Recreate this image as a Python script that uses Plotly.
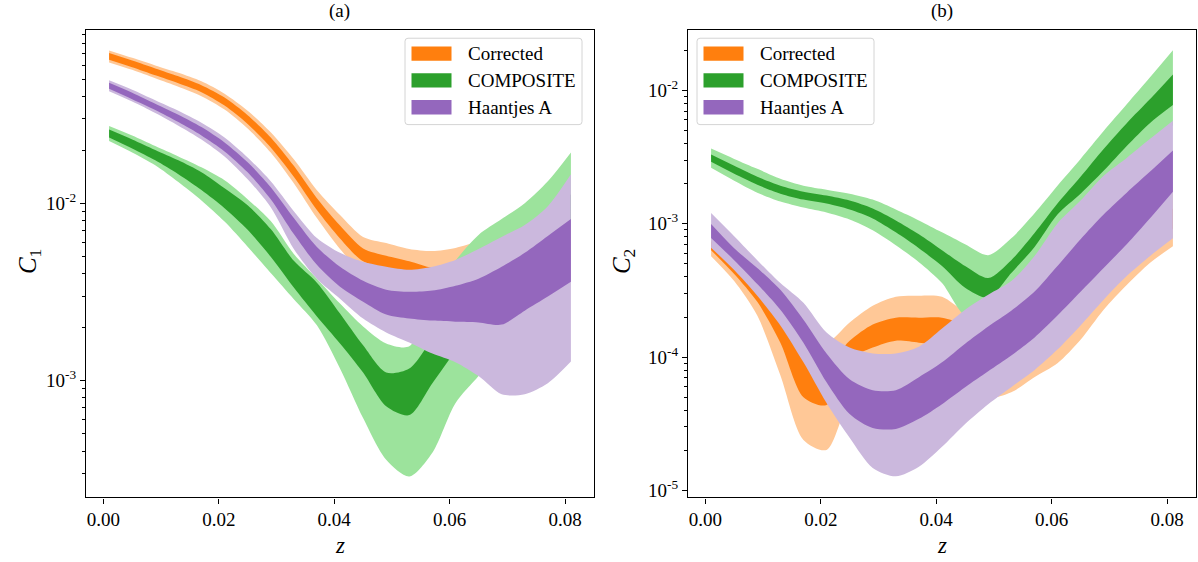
import plotly.graph_objects as go

# Redshift samples shared by every band
z = [0.001, 0.005, 0.009, 0.013, 0.017, 0.021, 0.025, 0.029, 0.033, 0.037,
     0.041, 0.045, 0.049, 0.053, 0.057, 0.061, 0.065, 0.069, 0.073, 0.077, 0.081]

labels = ["Corrected", "COMPOSITE", "Haantjes A"]

# ---------------- panel (a): C1 ----------------
# lo2/hi2 = outer (light) limits, lo1/hi1 = inner (dark) limits
c1_corr_hi2 = [0.0731, 0.0664, 0.0602, 0.0547, 0.0490, 0.0417, 0.0334, 0.0252, 0.01774, 0.01188, 0.00860,
               0.00647, 0.00598, 0.00554, 0.00539, 0.00561, 0.00614, 0.00681, 0.00755, 0.00827, 0.00905]
c1_corr_hi1 = [0.0708, 0.0642, 0.0579, 0.0522, 0.0465, 0.0396, 0.0315, 0.0236, 0.01631, 0.01071, 0.00750,
               0.00557, 0.00506, 0.00471, 0.00433, 0.00444, 0.00480, 0.00533, 0.00591, 0.00647, 0.00708]
c1_corr_lo1 = [0.0647, 0.0587, 0.0529, 0.0477, 0.0425, 0.0357, 0.0281, 0.0207, 0.01415, 0.00917, 0.00634,
               0.00471, 0.00433, 0.00408, 0.00380, 0.00390, 0.00422, 0.00468, 0.00519, 0.00568, 0.00622]
c1_corr_lo2 = [0.0626, 0.0568, 0.0509, 0.0456, 0.0403, 0.0339, 0.0265, 0.0194, 0.01301, 0.00827, 0.00554,
               0.00406, 0.00366, 0.00347, 0.00305, 0.00309, 0.00330, 0.00366, 0.00406, 0.00444, 0.00486]

c1_comp_hi2 = [0.0274, 0.0242, 0.0211, 0.01844, 0.0160, 0.01352, 0.01057, 0.00795, 0.00519, 0.00376, 0.00272,
               0.00202, 0.00162, 0.00156, 0.00290, 0.00474, 0.00664, 0.00816, 0.01004, 0.01335, 0.01942]
c1_comp_hi1 = [0.02615, 0.0230, 0.02006, 0.01751, 0.0150, 0.01219, 0.00978, 0.00717, 0.00474, 0.00357, 0.00239,
               0.00158, 0.00111, 0.00117, 0.00173, 0.00272, 0.00401, 0.00539, 0.00690, 0.00871, 0.01128]
c1_comp_lo1 = [0.0236, 0.02045, 0.01751, 0.01461, 0.01190, 0.00940, 0.00710, 0.00500, 0.00335, 0.00230, 0.00162,
               0.00111, 0.000717, 0.000638, 0.000966, 0.00148, 0.00230, 0.00330, 0.00439, 0.00568, 0.00736]
c1_comp_lo2 = [0.02254, 0.01942, 0.01642, 0.01320, 0.01040, 0.00790, 0.00570, 0.00405, 0.00288, 0.00205, 0.00117,
               0.000614, 0.000357, 0.000287, 0.000391, 0.000745, 0.00106, 0.00152, 0.00224, 0.00330, 0.00486]

c1_haan_hi2 = [0.0496, 0.0439, 0.0383, 0.0334, 0.0286, 0.0236, 0.0182, 0.01335, 0.00905, 0.00638, 0.00526,
               0.00468, 0.00439, 0.00422, 0.00439, 0.00480, 0.00554, 0.00647, 0.00755, 0.00965, 0.01461]
c1_haan_hi1 = [0.0480, 0.0422, 0.0366, 0.0317, 0.0270, 0.0221, 0.01706, 0.01235, 0.00827, 0.00568, 0.00439,
               0.00366, 0.00326, 0.00317, 0.00322, 0.00343, 0.00376, 0.00439, 0.00526, 0.00655, 0.00816]
c1_haan_lo1 = [0.0444, 0.0388, 0.0337, 0.0288, 0.0242, 0.01967, 0.0150, 0.01057, 0.00672, 0.00450, 0.00339,
               0.00279, 0.00236, 0.00224, 0.00218, 0.00215, 0.00213, 0.00207, 0.00248, 0.00298, 0.00361]
c1_haan_lo2 = [0.0430, 0.0376, 0.0324, 0.0275, 0.0230, 0.01844, 0.0137, 0.00953, 0.00554, 0.00376, 0.00290,
               0.00224, 0.00187, 0.00164, 0.00142, 0.00127, 0.00106, 0.000837, 0.000837, 0.000966, 0.00128]

# ---------------- panel (b): C2 ----------------
c2_corr_hi2 = [0.000834, 0.000613, 0.000413, 0.000256, 0.000145, 0.0001285, 0.000182, 0.000243, 0.000284, 0.000289,
               0.000284, 0.000216, 0.000167, 0.000182, 0.000235, 0.00032, 0.000466, 0.000715, 0.00106, 0.001545, 0.002177]
c2_corr_hi1 = [0.00074, 0.000534, 0.000354, 0.000198, 0.000105, 0.0000869, 0.000133, 0.000176, 0.000198, 0.000198,
               0.000198, 0.000173, 0.0001285, 0.0001285, 0.000153, 0.000205, 0.000289, 0.000428, 0.000634, 0.000924, 0.001302]
c2_corr_lo1 = [0.000634, 0.00042, 0.00026, 0.0001285, 0.0000502, 0.0000438, 0.0000963, 0.000118, 0.000133, 0.0001285,
               0.000122, 0.000114, 0.000084, 0.0000915, 0.000103, 0.0001285, 0.000191, 0.000299, 0.00045, 0.000656, 0.000924]
c2_corr_lo2 = [0.000572, 0.000372, 0.000205, 0.0000733, 0.000024, 0.0000202, 0.0000502, 0.0000869, 0.0000997, 0.000108,
               0.0000997, 0.000084, 0.0000502, 0.0000547, 0.0000708, 0.00009, 0.000135, 0.000227, 0.000348, 0.000508, 0.000679]

c2_comp_hi2 = [0.00366, 0.003066, 0.002583, 0.002177, 0.001931, 0.001803, 0.001683, 0.001519, 0.00128, 0.00106,
               0.000863, 0.000703, 0.000582, 0.000779, 0.001195, 0.001931, 0.003066, 0.004953, 0.007866, 0.01249, 0.0200]
c2_comp_hi1 = [0.0033, 0.002719, 0.002252, 0.001931, 0.001742, 0.001627, 0.001493, 0.001302, 0.00106, 0.000834,
               0.000634, 0.000482, 0.000392, 0.000534, 0.000848, 0.001418, 0.002252, 0.003639, 0.00568, 0.00857, 0.01317]
c2_comp_lo1 = [0.002912, 0.002371, 0.001964, 0.001683, 0.001519, 0.001418, 0.00128, 0.001097, 0.000863, 0.000656,
               0.000482, 0.000331, 0.000279, 0.000428, 0.000668, 0.001175, 0.001683, 0.002496, 0.00383, 0.00568, 0.00776]
c2_comp_lo2 = [0.002628, 0.002104, 0.001712, 0.001468, 0.001324, 0.001216, 0.001078, 0.000893, 0.000691, 0.000516,
               0.00036, 0.000205, 0.000198, 0.000331, 0.000534, 0.000893, 0.001347, 0.001998, 0.002863, 0.003963, 0.00549]

c2_haan_hi2 = [0.001203, 0.000806, 0.000534, 0.00036, 0.000256, 0.000153, 0.000118, 0.0001068, 0.0001068, 0.00012,
               0.000164, 0.000227, 0.000294, 0.000372, 0.000572, 0.001007, 0.001493, 0.002292, 0.003119, 0.004318, 0.00593]
c2_haan_hi1 = [0.000997, 0.000656, 0.000466, 0.00032, 0.000191, 0.0001068, 0.0000684, 0.0000566, 0.0000566, 0.0000708,
               0.0000915, 0.0001263, 0.00017, 0.000223, 0.000309, 0.000482, 0.000766, 0.001175, 0.001712, 0.002453, 0.003546]
c2_haan_lo1 = [0.000784, 0.000534, 0.000354, 0.000227, 0.0001285, 0.000065, 0.0000376, 0.0000295, 0.000029, 0.0000345,
               0.0000445, 0.0000596, 0.0000784, 0.000103, 0.00014, 0.000205, 0.000309, 0.000466, 0.000703, 0.001097, 0.001742]
c2_haan_lo2 = [0.000662, 0.00045, 0.000289, 0.000173, 0.0000915, 0.0000453, 0.0000249, 0.0000148, 0.0000128, 0.0000151,
               0.0000213, 0.0000316, 0.0000445, 0.0000596, 0.0000798, 0.000114, 0.000173, 0.00027, 0.000406, 0.000572, 0.000779]

# tick labels
x_ticks = [0.0, 0.02, 0.04, 0.06, 0.08]
x_ticktext = ["0.00", "0.02", "0.04", "0.06", "0.08"]
c1_ticks = [1e-3, 1e-2]
c2_ticks = [1e-5, 1e-4, 1e-3, 1e-2]

# ---------------- styling ----------------
W, H = 1198, 562
FONT = "Liberation Serif"
dark = {"Corrected": "#ff7f0e", "COMPOSITE": "#2ca02c", "Haantjes A": "#9467bd"}
light = {"Corrected": "#ffc897", "COMPOSITE": "#9ce39c", "Haantjes A": "#cbb8dd"}


def X(px):
    return px / W


def Y(py):
    return 1 - py / H


fig = go.Figure()


def add_band(lo, hi, color, xa, ya):
    # lower edge (invisible), then upper edge filled down to it
    fig.add_trace(go.Scatter(x=z, y=lo, mode="lines", line=dict(width=0, shape="spline", smoothing=0.8),
                             hoverinfo="skip", showlegend=False, xaxis=xa, yaxis=ya))
    fig.add_trace(go.Scatter(x=z, y=hi, mode="lines", line=dict(width=0, shape="spline", smoothing=0.8),
                             fill="tonexty", fillcolor=color,
                             hoverinfo="skip", showlegend=False, xaxis=xa, yaxis=ya))


panels = [
    ("x", "y", [(c1_corr_lo2, c1_corr_lo1, c1_corr_hi1, c1_corr_hi2),
                (c1_comp_lo2, c1_comp_lo1, c1_comp_hi1, c1_comp_hi2),
                (c1_haan_lo2, c1_haan_lo1, c1_haan_hi1, c1_haan_hi2)]),
    ("x2", "y2", [(c2_corr_lo2, c2_corr_lo1, c2_corr_hi1, c2_corr_hi2),
                  (c2_comp_lo2, c2_comp_lo1, c2_comp_hi1, c2_comp_hi2),
                  (c2_haan_lo2, c2_haan_lo1, c2_haan_hi1, c2_haan_hi2)]),
]
for xa, ya, series in panels:
    for name, (lo2, lo1, hi1, hi2) in zip(labels, series):
        add_band(lo2, hi2, light[name], xa, ya)
        add_band(lo1, hi1, dark[name], xa, ya)


def minor_vals(lo_exp, hi_exp):
    return [m * 10.0 ** e for e in range(lo_exp, hi_exp + 1) for m in range(2, 10)]


tickfont = dict(family=FONT, size=19, color="black")
common_x = dict(range=[-0.003, 0.085], tickmode="array", tickvals=x_ticks, ticktext=x_ticktext,
                showline=True, mirror=True, linecolor="black", linewidth=1.3,
                ticks="outside", ticklen=5, tickwidth=1.2, tickcolor="black",
                showgrid=False, zeroline=False, tickfont=tickfont)
common_y = dict(type="log", tickmode="array", showline=True, mirror=True, linecolor="black",
                linewidth=1.3, ticks="outside", ticklen=5, tickwidth=1.2, tickcolor="black",
                showgrid=False, zeroline=False, tickfont=tickfont)

y_dom = [Y(501), Y(30.3)]
fig.update_layout(
    width=W, height=H, margin=dict(l=0, r=0, t=0, b=0),
    paper_bgcolor="white", plot_bgcolor="white", showlegend=False,
    xaxis=dict(domain=[X(86), X(594)], anchor="y", **common_x),
    xaxis2=dict(domain=[X(688), X(1196)], anchor="y2", **common_x),
    yaxis=dict(domain=y_dom, anchor="x", range=[-3.66, -1.021],
               tickvals=c1_ticks, ticktext=["10<sup>-3</sup>", "10<sup>-2</sup>"],
               minor=dict(tickmode="array", tickvals=minor_vals(-4, -2), ticks="outside",
                          ticklen=3, tickwidth=1, tickcolor="black"),
               **common_y),
    yaxis2=dict(domain=y_dom, anchor="x2", range=[-5.051, -1.548],
                tickvals=c2_ticks,
                ticktext=["10<sup>-5</sup>", "10<sup>-4</sup>", "10<sup>-3</sup>", "10<sup>-2</sup>"],
                minor=dict(tickmode="array", tickvals=minor_vals(-5, -2), ticks="outside",
                           ticklen=3, tickwidth=1, tickcolor="black"),
                **common_y),
)

annotations = []
shapes = []


def text(px, py, s, size=19, angle=0, anchor="center"):
    annotations.append(dict(x=X(px), y=Y(py), xref="paper", yref="paper", text=s, showarrow=False,
                            xanchor=anchor, yanchor="middle", textangle=angle,
                            font=dict(family=FONT, size=size, color="black")))


# panel titles and axis titles
text(340, 11, "(a)")
text(942, 11, "(b)")
text(340, 549, "<i>z</i>", size=23)
text(942, 549, "<i>z</i>", size=23)
text(29, 264, "<i>C</i><sub>1</sub>", size=25, angle=-90)
text(623, 264, "<i>C</i><sub>2</sub>", size=25, angle=-90)


def rounded_box(x0, y0, x1, y1, r):
    p = (f"M {X(x0 + r)},{Y(y0)} L {X(x1 - r)},{Y(y0)} Q {X(x1)},{Y(y0)} {X(x1)},{Y(y0 + r)} "
         f"L {X(x1)},{Y(y1 - r)} Q {X(x1)},{Y(y1)} {X(x1 - r)},{Y(y1)} "
         f"L {X(x0 + r)},{Y(y1)} Q {X(x0)},{Y(y1)} {X(x0)},{Y(y1 - r)} "
         f"L {X(x0)},{Y(y0 + r)} Q {X(x0)},{Y(y0)} {X(x0 + r)},{Y(y0)} Z")
    shapes.append(dict(type="path", path=p, xref="paper", yref="paper",
                       line=dict(color="#d4d4d4", width=1), fillcolor="rgba(255,255,255,0.85)"))


def legend(box_left):
    rounded_box(box_left, 38.5, box_left + 177, 125.5, 3)
    for i, name in enumerate(labels):
        cy = 54 + 27 * i
        shapes.append(dict(type="rect", xref="paper", yref="paper",
                           x0=X(box_left + 6.5), x1=X(box_left + 46.5),
                           y0=Y(cy + 7.2), y1=Y(cy - 7.2),
                           line=dict(width=0), fillcolor=dark[name]))
        text(box_left + 61, cy, name, size=19, anchor="left")


legend(405)
legend(697)

fig.update_layout(annotations=annotations, shapes=shapes)
fig.write_html("out.html")
